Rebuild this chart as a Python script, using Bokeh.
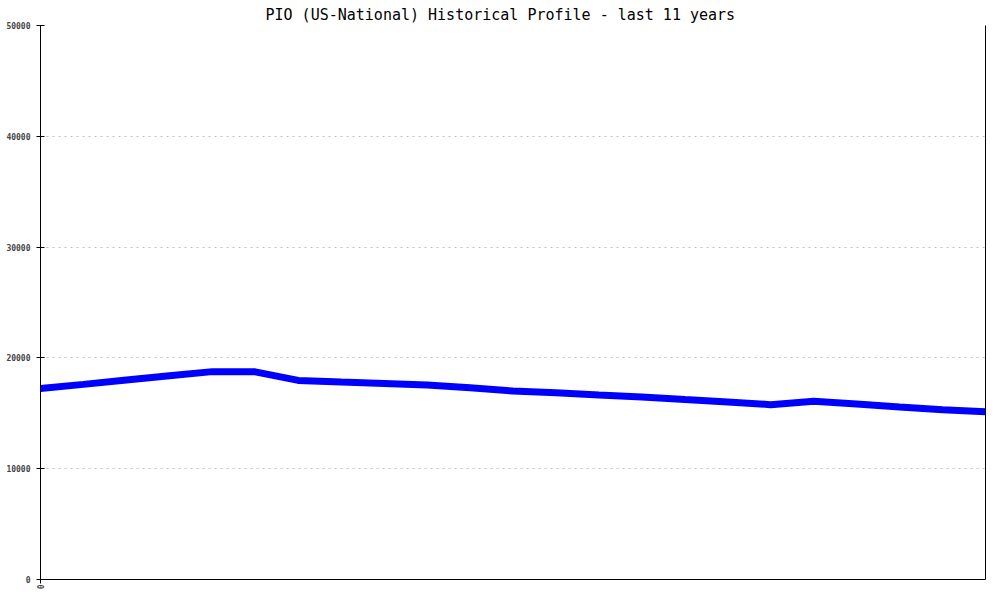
from bokeh.plotting import figure
from bokeh.models import Range1d, FixedTicker, LinearAxis
from bokeh.embed import file_html
from bokeh.resources import INLINE

title_text = "PIO (US-National) Historical Profile - last 11 years"
x_tick_positions = [0]
x_tick_labels = {0: "0"}
y_tick_values = [0, 10000, 20000, 30000, 40000, 50000]
period_index = list(range(23))  # half-year steps over 11 years
profile_values = [
    17230, 17610, 18000, 18380, 18760, 18740, 17970, 17820, 17690, 17560,
    17300, 17010, 16850, 16650, 16470, 16240, 16020, 15780, 16080, 15830,
    15570, 15330, 15140,
]

MONO = "DejaVu Sans Mono"

p = figure(
    width=992, height=592,
    output_backend="svg", toolbar_location=None,
    x_range=Range1d(0, len(period_index) - 1),
    y_range=Range1d(0, 50000),
    min_border_left=40, min_border_right=7,
    min_border_top=25, min_border_bottom=12,
)
p.title.text = title_text
p.title.text_font = MONO
p.title.text_font_size = "15px"
p.title.text_font_style = "normal"
p.title.align = "left"
p.title.text_color = "black"
p.title.standoff = 4
p.title.offset = 225

p.outline_line_color = None
p.background_fill_color = "white"
p.border_fill_color = "white"

p.line(period_index, profile_values, line_color="#0000ff", line_width=7)

# Grid
p.xgrid.visible = False
p.ygrid.ticker = FixedTicker(ticks=y_tick_values)
p.ygrid.grid_line_color = "#c0c0c0"
p.ygrid.grid_line_dash = "2 4"
p.ygrid.grid_line_width = 1

# Y axis
ya = p.yaxis[0]
ya.ticker = FixedTicker(ticks=y_tick_values)
ya.axis_line_color = "black"
ya.major_tick_line_color = "black"
ya.major_tick_in = 4
ya.major_tick_out = 4
ya.minor_tick_line_color = None
ya.major_label_text_font = MONO
ya.major_label_text_font_size = "8px"
ya.major_label_text_font_style = "bold"
ya.major_label_standoff = 6

# X axis
xa = p.xaxis[0]
xa.ticker = FixedTicker(ticks=x_tick_positions)
xa.major_label_overrides = x_tick_labels
xa.axis_line_color = "black"
xa.major_tick_line_color = "black"
xa.major_tick_in = 0
xa.major_tick_out = 4
xa.minor_tick_line_color = None
xa.major_label_text_font = MONO
xa.major_label_text_font_size = "8px"
xa.major_label_text_font_style = "bold"
xa.major_label_orientation = 1.5708
xa.major_label_standoff = 1

# Right axis line only
ra = LinearAxis(ticker=FixedTicker(ticks=[]))
ra.axis_line_color = "black"
ra.major_tick_line_color = None
ra.minor_tick_line_color = None
ra.major_label_text_font_size = "0px"
ra.major_tick_in = 0
ra.major_tick_out = 0
p.add_layout(ra, "right")

open("out.html", "w").write(file_html(p, INLINE))
